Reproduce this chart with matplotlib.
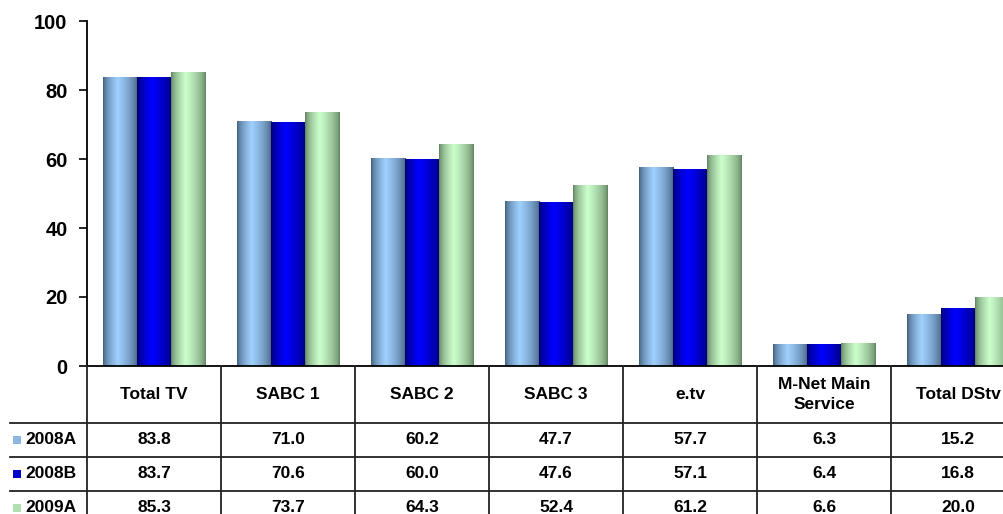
import numpy as np
import matplotlib
matplotlib.use("Agg")
import matplotlib.pyplot as plt
from matplotlib.colors import to_rgb

plt.rcParams['font.family'] = ['Liberation Sans', 'DejaVu Sans']

categories = ["Total TV", "SABC 1", "SABC 2", "SABC 3", "e.tv", "M-Net Main\nService", "Total DStv"]
series_names = ["2008A", "2008B", "2009A"]
v2008A = [83.8, 71.0, 60.2, 47.7, 57.7, 6.3, 15.2]
v2008B = [83.7, 70.6, 60.0, 47.6, 57.1, 6.4, 16.8]
v2009A = [85.3, 73.7, 64.3, 52.4, 61.2, 6.6, 20.0]
series_values = [v2008A, v2008B, v2009A]
yticks = [0, 20, 40, 60, 80, 100]

# (edge colour, centre colour, legend colour)
styles = [("#3f5a78", "#9fd0ff", "#8db8e0"),
          ("#00006a", "#0000ff", "#0000cc"),
          ("#5f7f5f", "#ccffcc", "#b0e0b0")]

W, H = 1004, 514
fig = plt.figure(figsize=(W / 100, H / 100), dpi=100)
fig.patch.set_facecolor("white")

x0_px, x1_px = 87, 1025
y_top_px, y_axis_px = 21, 366
ax = fig.add_axes([x0_px / W, (H - y_axis_px) / H, (x1_px - x0_px) / W, (y_axis_px - y_top_px) / H])
n = len(categories)
ax.set_xlim(-0.5, n - 0.5)
ax.set_ylim(0, 100)
ax.set_yticks(yticks)
ax.set_yticklabels([str(t) for t in yticks], fontsize=14.5, fontweight="bold")
ax.tick_params(axis="y", direction="out", length=6, width=1.2, pad=8)
ax.set_xticks([])
for s in ["top", "right"]:
    ax.spines[s].set_visible(False)
ax.spines["left"].set_linewidth(1.3)
ax.spines["bottom"].set_linewidth(1.3)

bw = 0.254
t = np.linspace(0, 1, 64)
peak = 0.42
f = np.where(t < peak, (t / peak) ** 0.6, ((1 - t) / (1 - peak)) ** 0.6)
for si, vals in enumerate(series_values):
    edge, centre, _ = styles[si]
    e = np.array(to_rgb(edge)); c = np.array(to_rgb(centre))
    grad = (e[None, :] + (c - e)[None, :] * f[:, None])[None, :, :]
    for ci, v in enumerate(vals):
        xc = ci + (si - 1) * bw
        b = ax.bar(xc, v, width=bw, color="none", edgecolor="none", zorder=2)[0]
        im = ax.imshow(grad, extent=[xc - bw / 2, xc + bw / 2, 0, v], aspect="auto",
                       interpolation="bilinear", zorder=2)
        im.set_clip_path(b)
ax.set_xlim(-0.5, n - 0.5)
ax.set_ylim(0, 100)

# table
tab_bottom_px = 525
tax = fig.add_axes([x0_px / W, (H - tab_bottom_px) / H, (x1_px - x0_px) / W, (tab_bottom_px - y_axis_px) / H])
tax.set_xlim(-0.5, n - 0.5)
tax.set_ylim(tab_bottom_px - y_axis_px, 0)
tax.axis("off")
px = n / (x1_px - x0_px)  # data units per pixel
header_h = 57
row_h = 34
lc = "#222222"
fs = 12.5
left_edge = -0.5 - (x0_px - 10) * px
for k in range(len(series_names) + 1):
    y = header_h + k * row_h
    tax.plot([left_edge, n - 0.5], [y, y], color=lc, lw=1.3, clip_on=False)
for ci in range(n + 1):
    tax.plot([ci - 0.5, ci - 0.5], [0, 200], color=lc, lw=1.3, clip_on=False)
for ci, cat in enumerate(categories):
    tax.text(ci, header_h / 2, cat, ha="center", va="center", fontsize=fs,
             fontweight="bold", linespacing=1.4)
for si, vals in enumerate(series_values):
    yc = header_h + si * row_h + row_h / 2
    for ci, v in enumerate(vals):
        tax.text(ci, yc, f"{v:.1f}", ha="center", va="center", fontsize=fs, fontweight="bold")
    sq = 8
    tax.add_patch(plt.Rectangle((-0.5 - (x0_px - 13) * px, yc - sq / 2), sq * px, sq,
                                facecolor=styles[si][2], edgecolor="none", clip_on=False))
    tax.text(-0.5 - (x0_px - 25) * px, yc, series_names[si], ha="left", va="center",
             fontsize=fs, fontweight="bold", clip_on=False)

fig.savefig("out.png", dpi=100)
